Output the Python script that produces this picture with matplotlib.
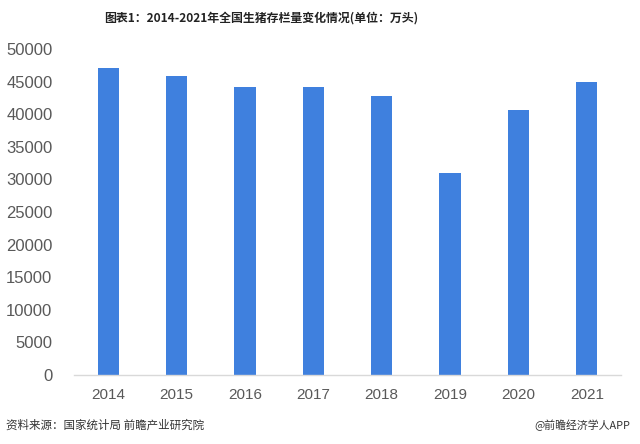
import matplotlib
matplotlib.use("Agg")
import matplotlib.pyplot as plt

years = ["2014", "2015", "2016", "2017", "2018", "2019", "2020", "2021"]
values = [47160, 45803, 44209, 44159, 42817, 31041, 40650, 44922]
yticks = [0, 5000, 10000, 15000, 20000, 25000, 30000, 35000, 40000, 45000, 50000]

title = "图表1：2014-2021年全国生猪存栏量变化情况(单位：万头)"
source = "资料来源：国家统计局 前瞻产业研究院"
credit = "@前瞻经济学人APP"

cjk = ["Noto Sans CJK SC", "DejaVu Sans"]
latin = ["Liberation Sans", "DejaVu Sans"]

fig = plt.figure(figsize=(6.4, 4.44), dpi=100)
ax = fig.add_axes([74 / 640, 1 - 375 / 444, (621 - 74) / 640, (375 - 49) / 444])

x = list(range(len(years)))
ax.bar(x, values, width=0.31, color="#3F80DE", zorder=2)

ax.set_xlim(-0.5, len(years) - 0.5)
ax.set_ylim(0, 50000)
ax.set_yticks(yticks)
ax.set_yticklabels([str(v) for v in yticks], fontsize=12, color="#595959", family=latin)
ax.set_xticks(x)
ax.set_xticklabels(years, fontsize=11, color="#595959", family=latin)

for s in ["top", "right", "left"]:
    ax.spines[s].set_visible(False)
ax.spines["bottom"].set_color("#D9D9D9")
ax.spines["bottom"].set_linewidth(1)
ax.tick_params(axis="both", length=0)
ax.tick_params(axis="y", pad=15.5)
ax.tick_params(axis="x", pad=9)

fig.text(261 / 640, 1 - 18 / 444, title, ha="center", va="center", fontsize=8.6,
         fontweight="bold", color="#222222", family=cjk)
fig.text(6 / 640, 1 - 425 / 444, source, ha="left", va="center", fontsize=8.3,
         color="#333333", family=cjk)
fig.text(630 / 640, 1 - 425 / 444, credit, ha="right", va="center", fontsize=7.8,
         color="#333333", family=cjk)

fig.savefig("out.png", dpi=100)
